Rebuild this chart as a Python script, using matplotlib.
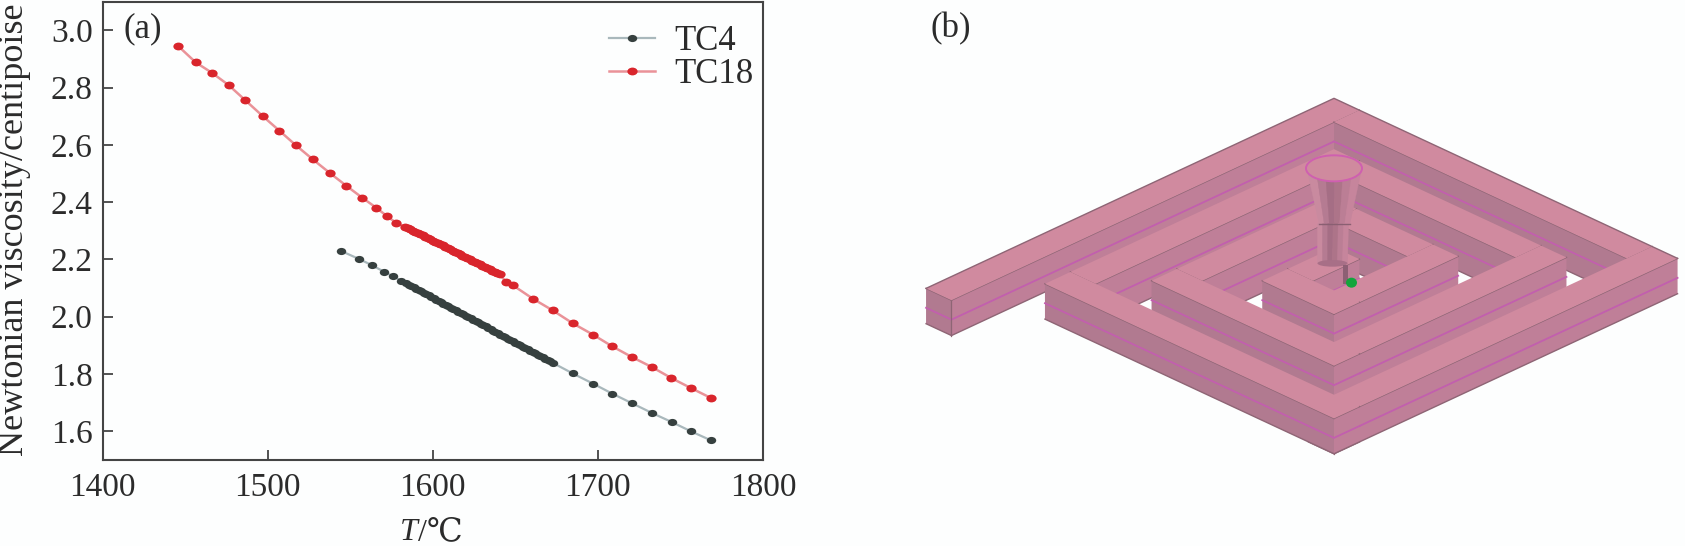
import numpy as np
import matplotlib
matplotlib.use("Agg")
import matplotlib.pyplot as plt
from matplotlib.patches import Polygon, Ellipse
from matplotlib.path import Path

plt.rcParams['font.family'] = ['Liberation Serif', 'DejaVu Serif', 'Noto Sans CJK SC']

# viscosity curves
tc18_t = [1446, 1456.4, 1466.4, 1476.5, 1486.6, 1496.9, 1507, 1517, 1527.2, 1537.6, 1547.7, 1557.4,
          1565.9, 1572.3, 1578, 1583,
          1585, 1586.5, 1588, 1589.5, 1591, 1592.5, 1594, 1595.5, 1597, 1598.5, 1600, 1601.5, 1603,
          1604.5, 1606, 1607.5, 1609, 1610.5, 1612, 1613.5, 1615, 1616.5, 1618, 1619.5, 1621, 1622.5,
          1624, 1625.5, 1627, 1628.5, 1630, 1631.5, 1633, 1634.5, 1636, 1637.5, 1639, 1640.5,
          1644.5, 1648.5, 1660.6, 1672.7, 1684.8, 1696.9, 1708.6, 1720.7, 1732.8, 1744.5,
          1756.4, 1768.3]
tc18_v = [2.944, 2.888, 2.851, 2.808, 2.755, 2.701, 2.650, 2.599, 2.550, 2.502, 2.457, 2.415,
          2.380, 2.351, 2.327, 2.314,
          2.310, 2.306, 2.301, 2.297, 2.293, 2.288, 2.284, 2.279, 2.275, 2.270, 2.266, 2.262, 2.257,
          2.253, 2.249, 2.244, 2.240, 2.235, 2.231, 2.227, 2.222, 2.218, 2.213, 2.209, 2.205, 2.200,
          2.196, 2.192, 2.187, 2.183, 2.178, 2.174, 2.170, 2.165, 2.161, 2.156, 2.152, 2.149,
          2.120, 2.110, 2.063, 2.022, 1.977, 1.938, 1.897, 1.859, 1.824, 1.786, 1.751, 1.717]
tc4_t = [1544.7, 1555.2, 1563.5, 1570.5, 1576, 1581,
         1584, 1585.5, 1587, 1588.5, 1590, 1591.5, 1593, 1594.5, 1596, 1597.5, 1599, 1600.5, 1602,
         1603.5, 1605, 1606.5, 1608, 1609.5, 1611, 1612.5, 1614, 1615.5, 1617, 1618.5, 1620, 1621.5,
         1623, 1624.5, 1626, 1627.5, 1629, 1630.5, 1632, 1633.5, 1635, 1636.5, 1638, 1639.5, 1641,
         1642.5, 1644, 1645.5, 1647, 1648.5, 1650, 1651.5, 1653, 1654.5, 1656, 1657.5, 1659, 1660.5,
         1662, 1663.5, 1665, 1666.5, 1668, 1669.5, 1671, 1672.7,
         1684.8, 1696.9, 1708.6, 1720.7, 1732.8, 1744.9, 1756.4, 1768.3]
tc4_v = [2.229, 2.202, 2.179, 2.157, 2.141, 2.126,
         2.117, 2.112, 2.108, 2.103, 2.098, 2.093, 2.089, 2.084, 2.079, 2.075, 2.070, 2.065, 2.060,
         2.056, 2.051, 2.046, 2.041, 2.037, 2.032, 2.027, 2.023, 2.018, 2.013, 2.008, 2.004, 1.999,
         1.994, 1.990, 1.985, 1.980, 1.975, 1.971, 1.966, 1.961, 1.957, 1.952, 1.947, 1.942, 1.938,
         1.933, 1.928, 1.924, 1.919, 1.914, 1.909, 1.905, 1.900, 1.895, 1.891, 1.886, 1.881, 1.876,
         1.872, 1.867, 1.862, 1.858, 1.853, 1.848, 1.844, 1.839,
         1.802, 1.767, 1.732, 1.698, 1.664, 1.632, 1.600, 1.569]
x_ticks = [1400, 1500, 1600, 1700, 1800]
y_ticks = [1.6, 1.8, 2.0, 2.2, 2.4, 2.6, 2.8, 3.0]

# spiral channel of panel (b): boxes p0, p1, q0, q1, painted back to front
start_bar = (0, 62, 0, 995)
back_bars = [(62, 776, 0, 62),
             (133, 195, 133, 776), (195, 638, 133, 195),
             (255, 317, 262, 638), (317, 503, 262, 324),
             (390, 452, 390, 503)]
front_bars = [(503, 565, 262, 565), (390, 565, 503, 565),
              (638, 700, 133, 700), (255, 700, 638, 700),
              (776, 838, 0, 838), (133, 838, 776, 838)]
wall_h = 106
back_depth = 120
top_col = '#d08a9f'
wall_q = '#b17a90'
wall_p = '#bf7f98'
stripe = '#c25fae'
edge = '#8e6575'
bg = '#fdfefe'

W, H = 1685, 546
fig = plt.figure(figsize=(W / 100, H / 100), dpi=100, facecolor=bg)

# markers in the source are squashed vertically
circle = Path.unit_circle()
oval = Path(circle.vertices * [1, 0.76], circle.codes)

ax = fig.add_axes([102.5 / W, 1 - 460 / H, 660.5 / W, 458.4 / H], facecolor=bg)
ax.plot(tc4_t, tc4_v, color='#a9b8bc', lw=1.6, marker=oval, ms=6.8, mfc='#36403f', mec='#36403f',
        mew=0, label='TC4')
ax.plot(tc18_t, tc18_v, color='#ea9298', lw=1.8, marker=oval, ms=7.4, mfc='#d9252c', mec='#d9252c',
        mew=0, label='TC18')
ax.set_xlim(1400, 1800)
ax.set_ylim(1.5, 3.1)
ax.set_xticks(x_ticks)
ax.set_yticks(y_ticks)
ax.set_yticklabels(['%.1f' % v for v in y_ticks])
ax.tick_params(direction='in', length=7, width=1.3, color='#444444', labelsize=24,
               labelcolor='#2b2b2b')
ax.tick_params(axis='x', pad=9)
ax.tick_params(axis='y', pad=7)
for s in ax.spines.values():
    s.set_linewidth(1.5)
    s.set_color('#444444')

ax.legend(loc='upper left', bbox_to_anchor=(0.7455, 0.98), frameon=False, fontsize=25,
          handlelength=1.33, handletextpad=0.55, labelspacing=0.0, borderaxespad=0,
          labelcolor='#2b2b2b')

fig.text(15 / W, 1 - 230 / H, 'Newtonian viscosity/centipoise', rotation=90, ha='center', va='center',
         fontsize=26, color='#2b2b2b')
fig.text(418 / W, 1 - 533 / H, 'T', style='italic', ha='right', va='center', fontsize=23, color='#2b2b2b')
fig.text(418 / W, 1 - 533 / H, '/℃', ha='left', va='center', fontsize=23, color='#2b2b2b')
fig.text(143 / W, 1 - 29 / H, '(a)', ha='center', va='center', fontsize=25, color='#2b2b2b')
fig.text(951 / W, 1 - 29 / H, '(b)', ha='center', va='center', fontsize=25, color='#2b2b2b')

# illustration
ax2 = fig.add_axes([900 / W, 1 - 480 / H, 785 / W, 400 / H])
ax2.set_xlim(0, 1570)
ax2.set_ylim(1200, 0)
ax2.axis('off')


def pt(p, q, z=0):
    return (868 + 0.82 * (p - q), 55 + 0.573 * (p + q) + z)


def draw_box(p0, p1, q0, q1, z, depth=wall_h):
    # +q face
    ax2.add_patch(Polygon([pt(p0, q1), pt(p1, q1), pt(p1, q1, depth), pt(p0, q1, depth)],
                          fc=wall_q, ec='none', zorder=z))
    ax2.plot(*zip(pt(p0, q1, wall_h * 0.55), pt(p1, q1, wall_h * 0.55)), color=stripe, lw=1.3, zorder=z)
    # +p face
    ax2.add_patch(Polygon([pt(p1, q0), pt(p1, q1), pt(p1, q1, depth), pt(p1, q0, depth)],
                          fc=wall_p, ec='none', zorder=z))
    ax2.plot(*zip(pt(p1, q0, wall_h * 0.55), pt(p1, q1, wall_h * 0.55)), color=stripe, lw=1.3, zorder=z)
    ax2.plot(*zip(pt(p0, q1), pt(p1, q1)), color=edge, lw=1, zorder=z)
    ax2.plot(*zip(pt(p1, q0), pt(p1, q1)), color=edge, lw=1, zorder=z)
    ax2.plot(*zip(pt(p0, q1, depth), pt(p1, q1, depth), pt(p1, q0, depth)), color=edge, lw=1, zorder=z)
    if q1 - q0 > 62:
        ax2.plot(*zip(pt(p1, q1), pt(p1, q1, depth)), color=edge, lw=0.9, zorder=z)
    ax2.add_patch(Polygon([pt(p0, q0), pt(p1, q0), pt(p1, q1), pt(p0, q1)],
                          fc=top_col, ec='none', zorder=z + 0.5))


z = 1
draw_box(*start_bar, z)
for b in back_bars:
    z += 1
    draw_box(*b, z, depth=back_depth)
for b in front_bars:
    z += 1
    draw_box(*b, z)

# outer silhouette edges at the back of the spiral
z += 1
ax2.plot(*zip(pt(0, 995), pt(0, 0), pt(838, 0)), color=edge, lw=1, zorder=z)

# riser: tapered sprue, lower cylinder, thin gate
z += 1
bands = ['#c98a9f', '#b57b92', '#a56e85', '#ad7489', '#bb7e95', '#c6859c']
n = len(bands)
for i, col in enumerate(bands):
    f0, f1 = i / n, (i + 1) / n
    ax2.add_patch(Polygon([(815 + 107 * f0, 275), (815 + 107 * f1, 275), (838 + 62 * f1, 430), (838 + 62 * f0, 430)],
                          fc=col, ec=col, lw=0.3, zorder=z))
    ax2.add_patch(Polygon([(835 + 62 * f0, 430), (835 + 62 * f1, 430), (835 + 60 * f1, 550), (835 + 60 * f0, 550)],
                          fc=col, ec=col, lw=0.3, zorder=z))
ax2.add_patch(Ellipse((865, 550), 60, 20, fc='#a86f87', ec='none', zorder=z))
ax2.plot([838, 900], [432, 432], color='#8a5f72', lw=1, zorder=z + 1)
ax2.add_patch(Polygon([(885, 555), (896, 555), (896, 612), (885, 612)], fc='#8d5f74', ec='none', zorder=z))
ax2.add_patch(Ellipse((868, 265), 112, 78, fc='#cf8a9e', ec='#cf5fb0', lw=1.4, zorder=z + 1))
ax2.add_patch(Ellipse((903, 608), 22, 30, fc='#12a53c', ec='none', zorder=z + 2))

fig.savefig('out.png', dpi=100, facecolor=bg)
